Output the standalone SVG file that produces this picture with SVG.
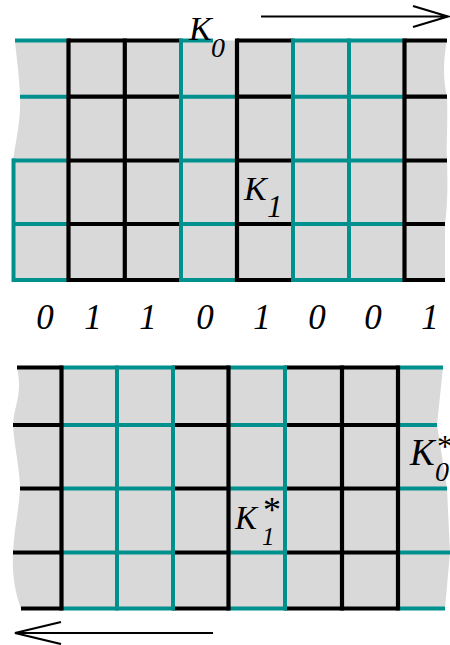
<svg xmlns="http://www.w3.org/2000/svg" width="450" height="645" viewBox="0 0 450 645">
<style>
.bg{fill:#d9d9d9;stroke:none}
.k{stroke:#000;stroke-width:4.2;fill:none}
.t{stroke:#00918f;stroke-width:4;fill:none}
.lbl{font-family:"Liberation Serif","Times New Roman",serif;font-style:italic;fill:#000}
.star{font-style:normal}
.arr{stroke:#000;stroke-width:2.2;fill:none}
</style>
<rect width="450" height="645" fill="#fff"/>
<g id="top-grid">
<path class="bg" d="M15,40.5 L447,40.5 C443,60 443,80 447,96.7 C448,125 446,145 447,160.5 C448,190 447,210 445,224 L445,280 L14,280 L13,160.5 C16,140 21,120 20,96.7 C19,70 16,55 15,40.5 Z"/>
<g id="top-horizontals">
<path class="t" d="M15,40.5H68 M20,96.7H68 M12,160.5H68 M13,224H68 M14,280H68"/>
<path class="k" d="M68,40.5H181 M68,96.7H181 M68,160.5H181 M68,224H181 M68,280H181"/>
<path class="t" d="M181,40.5H213 M181,96.7H237 M181,160.5H237 M181,224H237 M181,280H237"/>
<path class="k" d="M237,40.5H293 M237,96.7H293 M237,160.5H293 M237,224H293 M237,280H293"/>
<path class="t" d="M293,40.5H405 M293,96.7H405 M293,160.5H405 M293,224H405 M293,280H405"/>
<path class="k" d="M405,40.5H447 M405,96.7H447 M405,160.5H447 M405,224H445 M405,280H445"/>
</g>
<g id="top-verticals">
<path class="t" d="M13.5,158.5V282"/>
<path class="k" d="M68.5,38.4V282.1 M124.8,38.4V282.1 M237,38.4V282.1 M404.5,38.4V282.1"/>
<path class="t" d="M181,38.5V282 M293,38.5V282 M349,38.5V282"/>
</g>
</g>
<g id="bits">
<text class="lbl" font-size="35" text-anchor="middle" x="45" y="329">0</text>
<text class="lbl" font-size="35" text-anchor="middle" x="93" y="329">1</text>
<text class="lbl" font-size="35" text-anchor="middle" x="148" y="329">1</text>
<text class="lbl" font-size="35" text-anchor="middle" x="205" y="329">0</text>
<text class="lbl" font-size="35" text-anchor="middle" x="262" y="329">1</text>
<text class="lbl" font-size="35" text-anchor="middle" x="317" y="329">0</text>
<text class="lbl" font-size="35" text-anchor="middle" x="373" y="329">0</text>
<text class="lbl" font-size="35" text-anchor="middle" x="430" y="329">1</text>
</g>
<g id="bottom-grid">
<path class="bg" d="M17,367.5 L443,367.5 L437,425 L447,488.5 L450,552.5 L445,608.5 L21,608.5 C14,590 12,570 13,552.5 C14,530 19,510 20,488.5 C20,470 14,445 13,425 C14,405 23,395 17,367.5 Z"/>
<g id="bottom-horizontals">
<path class="k" d="M17,367.5H62 M13,425H62 M20,488.5H62 M13,552.5H62 M21,608.5H62"/>
<path class="t" d="M62,367.5H173 M62,425H173 M62,488.5H173 M62,552.5H173 M62,608.5H173"/>
<path class="k" d="M173,367.5H229 M173,425H229 M173,488.5H229 M173,552.5H229 M173,608.5H229"/>
<path class="t" d="M229,367.5H285 M229,425H285 M229,488.5H285 M229,552.5H285 M229,608.5H285"/>
<path class="k" d="M285,367.5H398 M285,425H398 M285,488.5H398 M285,552.5H398 M285,608.5H398"/>
<path class="t" d="M398,367.5H443 M398,425H437 M398,488.5H447 M398,552.5H450 M398,608.5H445"/>
</g>
<g id="bottom-verticals">
<path class="k" d="M61.5,365.4V610.6 M228.5,365.4V610.6 M342,365.4V610.6 M398,365.4V610.6"/>
<path class="t" d="M117,365.5V610.5 M173,365.5V610.5 M285,365.5V610.5"/>
</g>
</g>
<g id="label-K0">
<text class="lbl"><tspan font-size="34" x="189" y="40">K</tspan><tspan font-size="28" x="211" y="57">0</tspan></text>
</g>
<g id="label-K1">
<text class="lbl"><tspan font-size="34" x="244" y="200">K</tspan><tspan font-size="31" x="267" y="217">1</tspan></text>
</g>
<g id="label-K1star">
<text class="lbl"><tspan font-size="33" x="235" y="529">K</tspan><tspan class="star" font-size="36" x="263" y="522">*</tspan><tspan font-size="25" x="262" y="545">1</tspan></text>
</g>
<g id="label-K0star">
<text class="lbl"><tspan font-size="37" x="410" y="465">K</tspan><tspan class="star" font-size="32" x="437" y="457">*</tspan><tspan font-size="28" x="435" y="481">0</tspan></text>
</g>
<g id="connectors">
<path id="arrow-right" class="arr" d="M261,16.5H447 M413,6 L448,16.5 L413,27"/>
<path id="arrow-left" class="arr" d="M213,633H16 M61,622 L15,633 L61,644"/>
</g>
</svg>
